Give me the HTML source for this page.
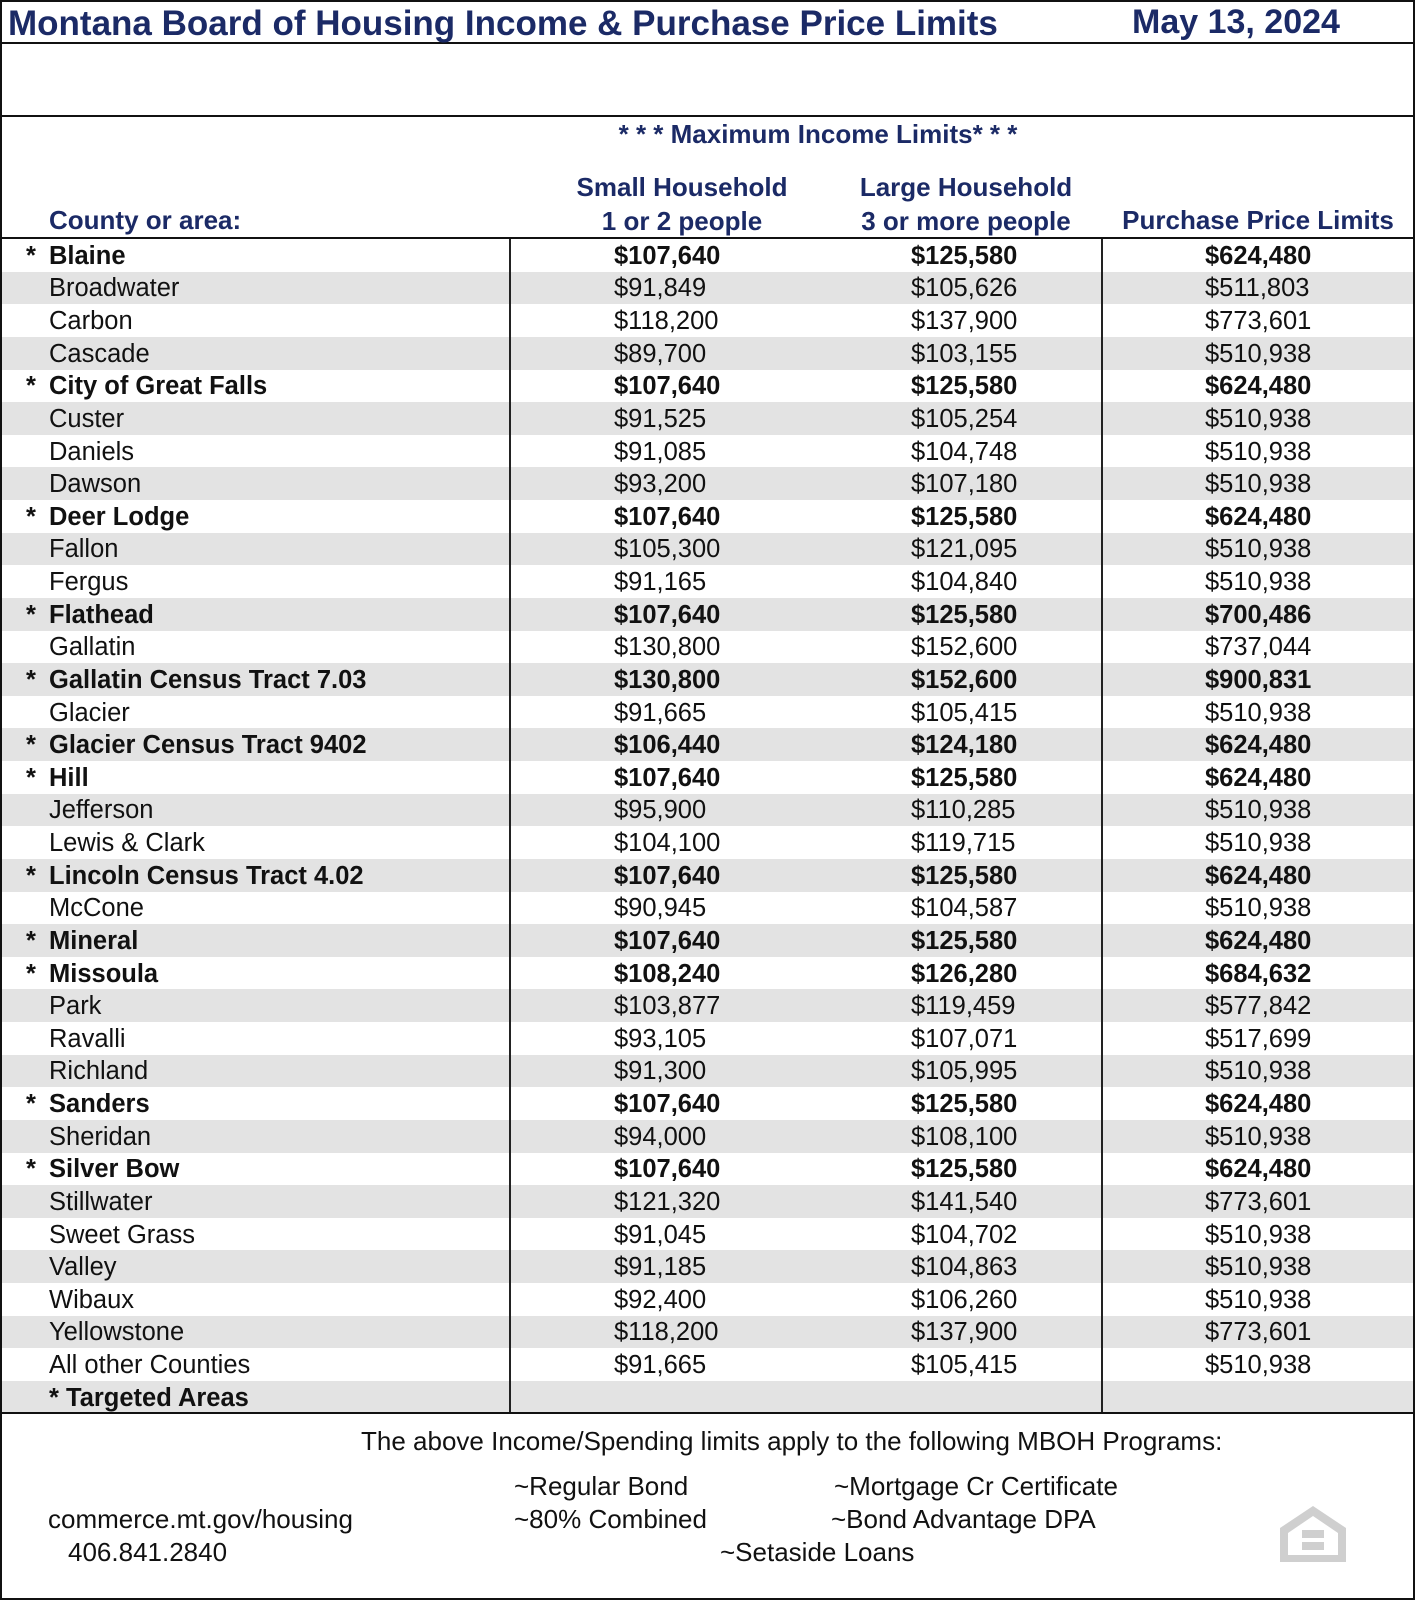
<!DOCTYPE html>
<html><head><meta charset="utf-8"><style>
*{margin:0;padding:0;box-sizing:border-box}
body{width:1415px;height:1600px;background:#fff;font-family:"Liberation Sans",Arial,sans-serif;position:relative;overflow:hidden}
.a{position:absolute;white-space:nowrap}
.n{color:#1b2a66;font-weight:bold}
.hl{position:absolute;left:0;width:1415px;background:#111}
table{position:absolute;left:2px;top:239px;border-collapse:collapse;table-layout:fixed;font-size:25.5px;color:#111}
td{height:32.64px;padding:0;padding-top:2px;line-height:29px;white-space:nowrap;overflow:hidden}
tr:nth-child(even) td{background:#e3e3e3}
td.c{position:relative;padding-left:47px}
td.c span{position:absolute;left:24px}
td.v1{padding-left:103px}
td.v2{padding-left:85px}
td.v3{padding-left:102px}
td.d{border-left:2px solid #222}
tr.b td{font-weight:bold}
.f{font-size:26px;color:#111}
</style></head><body>
<div style="position:absolute;left:0;top:0;width:1415px;height:1600px;border:2px solid #111"></div>
<div class="hl" style="top:42px;height:2px"></div>
<div class="hl" style="top:115px;height:2px"></div>
<div class="hl" style="top:237px;height:2px"></div>
<div class="a n" style="left:8px;top:4px;font-size:35px">Montana Board of Housing Income &amp; Purchase Price Limits</div>
<div class="a n" style="left:1132px;top:3px;font-size:34px">May 13, 2024</div>
<div class="a n" style="left:818px;top:119px;font-size:26px;transform:translateX(-50%)">* * * Maximum Income Limits* * *</div>
<div class="a n" style="left:49px;top:205px;font-size:26px">County or area:</div>
<div class="a n" style="left:682px;top:170px;font-size:26px;transform:translateX(-50%);text-align:center;line-height:34px">Small Household<br>1 or 2 people</div>
<div class="a n" style="left:966px;top:170px;font-size:26px;transform:translateX(-50%);text-align:center;line-height:34px">Large Household<br>3 or more people</div>
<div class="a n" style="left:1258px;top:205px;font-size:26px;transform:translateX(-50%)">Purchase Price Limits</div>
<table>
<colgroup><col style="width:508px"><col style="width:316px"><col style="width:276px"><col style="width:311px"></colgroup>
<tr class="b"><td class="c"><span>*</span>Blaine</td><td class="v1 d">$107,640</td><td class="v2">$125,580</td><td class="v3 d">$624,480</td></tr>
<tr><td class="c">Broadwater</td><td class="v1 d">$91,849</td><td class="v2">$105,626</td><td class="v3 d">$511,803</td></tr>
<tr><td class="c">Carbon</td><td class="v1 d">$118,200</td><td class="v2">$137,900</td><td class="v3 d">$773,601</td></tr>
<tr><td class="c">Cascade</td><td class="v1 d">$89,700</td><td class="v2">$103,155</td><td class="v3 d">$510,938</td></tr>
<tr class="b"><td class="c"><span>*</span>City of Great Falls</td><td class="v1 d">$107,640</td><td class="v2">$125,580</td><td class="v3 d">$624,480</td></tr>
<tr><td class="c">Custer</td><td class="v1 d">$91,525</td><td class="v2">$105,254</td><td class="v3 d">$510,938</td></tr>
<tr><td class="c">Daniels</td><td class="v1 d">$91,085</td><td class="v2">$104,748</td><td class="v3 d">$510,938</td></tr>
<tr><td class="c">Dawson</td><td class="v1 d">$93,200</td><td class="v2">$107,180</td><td class="v3 d">$510,938</td></tr>
<tr class="b"><td class="c"><span>*</span>Deer Lodge</td><td class="v1 d">$107,640</td><td class="v2">$125,580</td><td class="v3 d">$624,480</td></tr>
<tr><td class="c">Fallon</td><td class="v1 d">$105,300</td><td class="v2">$121,095</td><td class="v3 d">$510,938</td></tr>
<tr><td class="c">Fergus</td><td class="v1 d">$91,165</td><td class="v2">$104,840</td><td class="v3 d">$510,938</td></tr>
<tr class="b"><td class="c"><span>*</span>Flathead</td><td class="v1 d">$107,640</td><td class="v2">$125,580</td><td class="v3 d">$700,486</td></tr>
<tr><td class="c">Gallatin</td><td class="v1 d">$130,800</td><td class="v2">$152,600</td><td class="v3 d">$737,044</td></tr>
<tr class="b"><td class="c"><span>*</span>Gallatin Census Tract 7.03</td><td class="v1 d">$130,800</td><td class="v2">$152,600</td><td class="v3 d">$900,831</td></tr>
<tr><td class="c">Glacier</td><td class="v1 d">$91,665</td><td class="v2">$105,415</td><td class="v3 d">$510,938</td></tr>
<tr class="b"><td class="c"><span>*</span>Glacier Census Tract 9402</td><td class="v1 d">$106,440</td><td class="v2">$124,180</td><td class="v3 d">$624,480</td></tr>
<tr class="b"><td class="c"><span>*</span>Hill</td><td class="v1 d">$107,640</td><td class="v2">$125,580</td><td class="v3 d">$624,480</td></tr>
<tr><td class="c">Jefferson</td><td class="v1 d">$95,900</td><td class="v2">$110,285</td><td class="v3 d">$510,938</td></tr>
<tr><td class="c">Lewis &amp; Clark</td><td class="v1 d">$104,100</td><td class="v2">$119,715</td><td class="v3 d">$510,938</td></tr>
<tr class="b"><td class="c"><span>*</span>Lincoln Census Tract 4.02</td><td class="v1 d">$107,640</td><td class="v2">$125,580</td><td class="v3 d">$624,480</td></tr>
<tr><td class="c">McCone</td><td class="v1 d">$90,945</td><td class="v2">$104,587</td><td class="v3 d">$510,938</td></tr>
<tr class="b"><td class="c"><span>*</span>Mineral</td><td class="v1 d">$107,640</td><td class="v2">$125,580</td><td class="v3 d">$624,480</td></tr>
<tr class="b"><td class="c"><span>*</span>Missoula</td><td class="v1 d">$108,240</td><td class="v2">$126,280</td><td class="v3 d">$684,632</td></tr>
<tr><td class="c">Park</td><td class="v1 d">$103,877</td><td class="v2">$119,459</td><td class="v3 d">$577,842</td></tr>
<tr><td class="c">Ravalli</td><td class="v1 d">$93,105</td><td class="v2">$107,071</td><td class="v3 d">$517,699</td></tr>
<tr><td class="c">Richland</td><td class="v1 d">$91,300</td><td class="v2">$105,995</td><td class="v3 d">$510,938</td></tr>
<tr class="b"><td class="c"><span>*</span>Sanders</td><td class="v1 d">$107,640</td><td class="v2">$125,580</td><td class="v3 d">$624,480</td></tr>
<tr><td class="c">Sheridan</td><td class="v1 d">$94,000</td><td class="v2">$108,100</td><td class="v3 d">$510,938</td></tr>
<tr class="b"><td class="c"><span>*</span>Silver Bow</td><td class="v1 d">$107,640</td><td class="v2">$125,580</td><td class="v3 d">$624,480</td></tr>
<tr><td class="c">Stillwater</td><td class="v1 d">$121,320</td><td class="v2">$141,540</td><td class="v3 d">$773,601</td></tr>
<tr><td class="c">Sweet Grass</td><td class="v1 d">$91,045</td><td class="v2">$104,702</td><td class="v3 d">$510,938</td></tr>
<tr><td class="c">Valley</td><td class="v1 d">$91,185</td><td class="v2">$104,863</td><td class="v3 d">$510,938</td></tr>
<tr><td class="c">Wibaux</td><td class="v1 d">$92,400</td><td class="v2">$106,260</td><td class="v3 d">$510,938</td></tr>
<tr><td class="c">Yellowstone</td><td class="v1 d">$118,200</td><td class="v2">$137,900</td><td class="v3 d">$773,601</td></tr>
<tr><td class="c">All other Counties</td><td class="v1 d">$91,665</td><td class="v2">$105,415</td><td class="v3 d">$510,938</td></tr>
<tr class="b"><td class="c">* Targeted Areas</td><td class="v1 d"></td><td class="v2"></td><td class="v3 d"></td></tr>
</table>
<div class="hl" style="top:1412px;height:2px"></div>
<div class="a f" style="left:361px;top:1426px">The above Income/Spending limits apply to the following MBOH Programs:</div>
<div class="a f" style="left:514px;top:1471px">~Regular Bond</div>
<div class="a f" style="left:834px;top:1471px">~Mortgage Cr Certificate</div>
<div class="a f" style="left:514px;top:1504px">~80% Combined</div>
<div class="a f" style="left:831px;top:1504px">~Bond Advantage DPA</div>
<div class="a f" style="left:48px;top:1504px">commerce.mt.gov/housing</div>
<div class="a f" style="left:68px;top:1537px">406.841.2840</div>
<div class="a f" style="left:720px;top:1537px">~Setaside Loans</div>
<svg class="a" style="left:1278px;top:1503px" width="70" height="60" viewBox="0 0 70 60">
<path d="M35 3 L68 25 L68 59 L2 59 L2 25 Z M35 13 L10 30 L10 52 L60 52 L60 30 Z" fill="#cfcfcf" fill-rule="evenodd"/>
<rect x="24" y="27" width="22" height="8" fill="#cfcfcf"/>
<rect x="24" y="39" width="22" height="8" fill="#cfcfcf"/>
</svg>
</body></html>
